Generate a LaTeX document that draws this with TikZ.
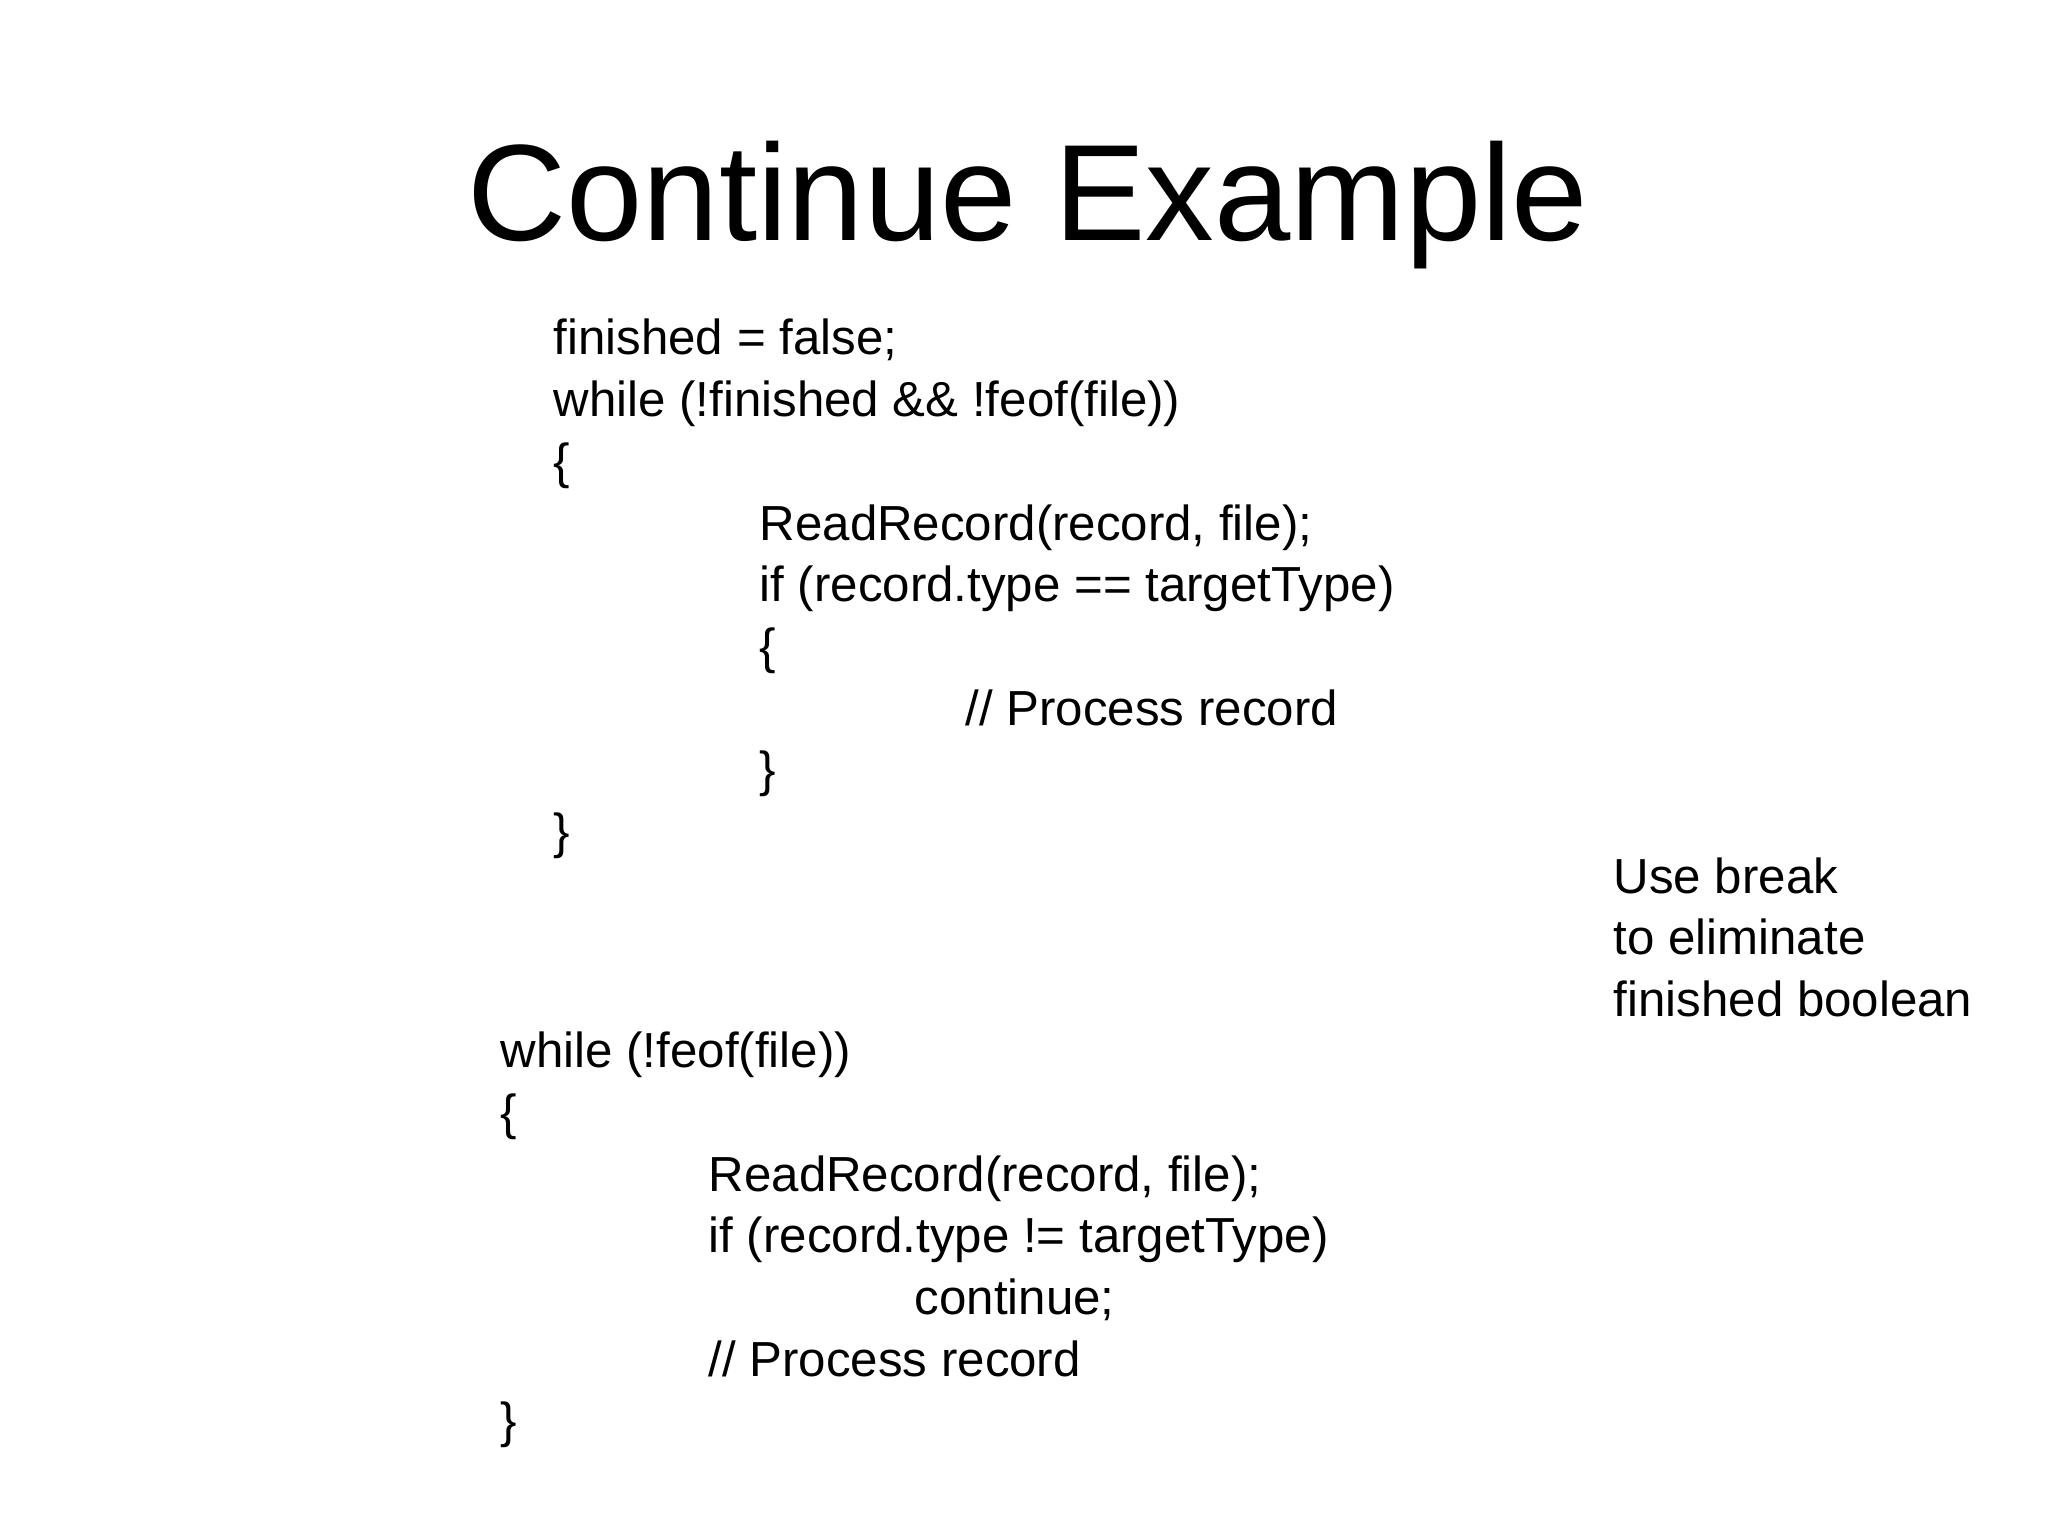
\documentclass[tikz,border=0pt]{standalone}
\usepackage{fontspec}
\setmainfont{Liberation Sans}
\usetikzlibrary{positioning}

\tikzset{code/.style={anchor=base west,inner sep=0pt,font=\fontsize{14}{17}\selectfont}}

\begin{document}
\begin{tikzpicture}[x=0.01cm,y=-0.01cm]
	\useasboundingbox (0,0) rectangle (2048,1536);
	\node [anchor=base,inner sep=0pt,font=\fontsize{39}{47}\selectfont] (title) at (1028,240) {Continue Example};
	% first version
	\node [code] (a1) at (553,354) {finished = false;};
	\node [code] (a2) at (553,416) {while (!finished \&\& !feof(file))};
	\node [code] (a3) at (553,478) {\{};
	\node [code] (a4) at (759,540) {ReadRecord(record, file);};
	\node [code] (a5) at (759,601) {if (record.type == targetType)};
	\node [code] (a6) at (759,663) {\{};
	\node [code] (a7) at (965,725) {// Process record};
	\node [code] (a8) at (759,786) {\}};
	\node [code] (a9) at (553,848) {\}};
	% note
	\node [code] (n1) at (1613,893) {Use break};
	\node [code] (n2) at (1613,954) {to eliminate};
	\node [code] (n3) at (1613,1016) {finished boolean};
	% second version
	\node [code] (b1) at (500,1067) {while (!feof(file))};
	\node [code] (b2) at (500,1129) {\{};
	\node [code] (b3) at (708,1191) {ReadRecord(record, file);};
	\node [code] (b4) at (708,1252) {if (record.type != targetType)};
	\node [code] (b5) at (914,1314) {continue;};
	\node [code] (b6) at (708,1376) {// Process record};
	\node [code] (b7) at (500,1437) {\}};
\end{tikzpicture}
\end{document}
